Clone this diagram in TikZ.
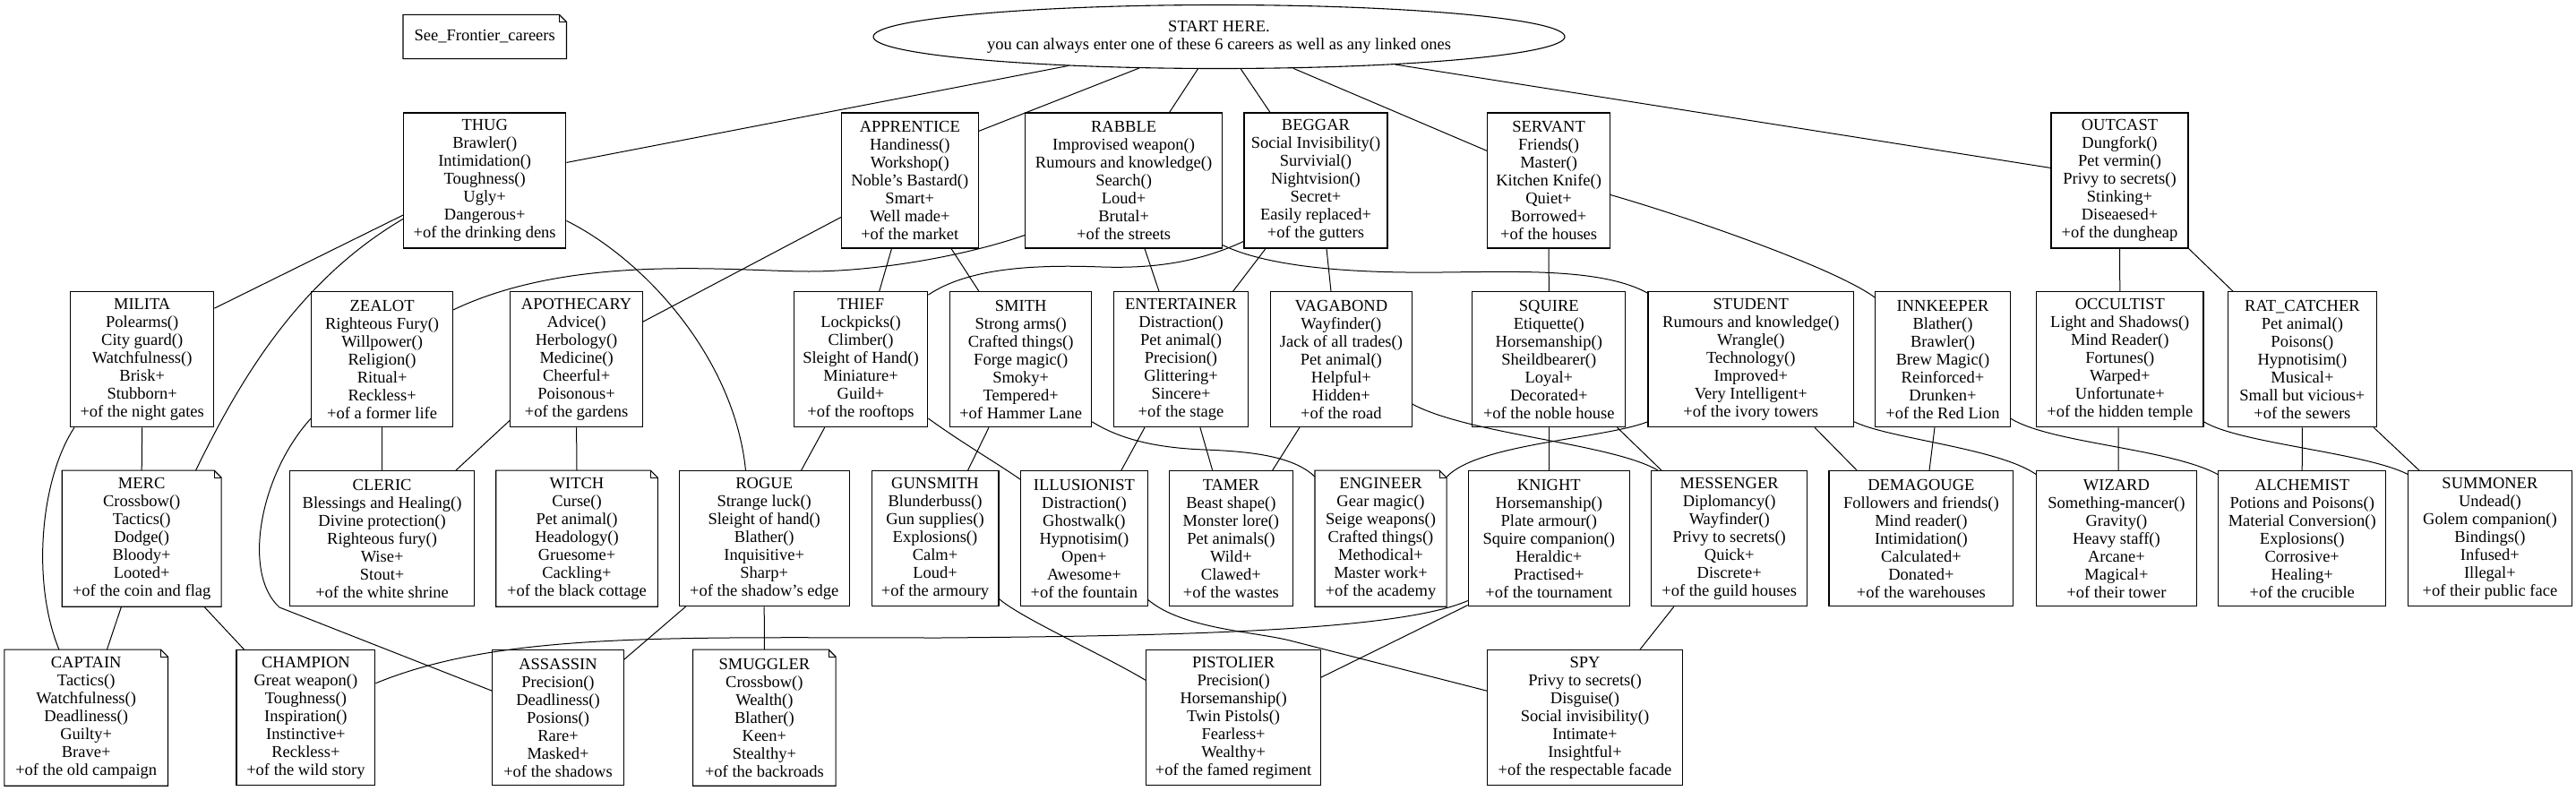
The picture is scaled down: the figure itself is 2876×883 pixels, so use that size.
\documentclass[tikz,border=0pt]{standalone}
\usepackage{fontspec}
\setmainfont{Liberation Serif}
\usetikzlibrary{shapes.geometric,calc}
\newcommand\nfont{\fontsize{18.57pt}{20.07pt}\selectfont}
\begin{document}
\begin{tikzpicture}[x=1bp,y=-1bp,
  box/.style={draw, line width=1.1bp, rectangle, inner sep=0pt, minimum height=151bp, align=center, font=\nfont},
  notebox/.style={box, draw=none},
  ln/.style={line width=1bp}]
\fill[white] (0,0) rectangle (2876,883);
\useasboundingbox (0,0) rectangle (2876,883);

% ---------- top ----------
\node[ellipse, draw, line width=1.1bp, minimum width=772bp, minimum height=71bp, inner sep=0pt, align=center, font=\nfont] (START) at (1361,41) {START HERE.\\you can always enter one of these 6 careers as well as any linked ones};
\node[notebox, minimum width=181.4bp, minimum height=48bp] (SFC) at (541.2,41) {See\_Frontier\_careers};

% ---------- row 1 ----------
\node[box, minimum width=181.4bp] (THUG) at (541.2,201.5) {THUG\\Brawler()\\Intimidation()\\Toughness()\\Ugly+\\Dangerous+\\+of the drinking dens};
\node[box, minimum width=152.5bp] (APPRENTICE) at (1015.8,201.5) {APPRENTICE\\Handiness()\\Workshop()\\Noble's Bastard()\\Smart+\\Well made+\\+of the market};
\node[box, minimum width=219.5bp] (RABBLE) at (1254.6,201.5) {RABBLE\\Improvised weapon()\\Rumours and knowledge()\\Search()\\Loud+\\Brutal+\\+of the streets};
\node[box, minimum width=160bp] (BEGGAR) at (1469,201.5) {BEGGAR\\Social Invisibility()\\Survivial()\\Nightvision()\\Secret+\\Easily replaced+\\+of the gutters};
\node[box, minimum width=136.4bp] (SERVANT) at (1729.1,201.5) {SERVANT\\Friends()\\Master()\\Kitchen Knife()\\Quiet+\\Borrowed+\\+of the houses};
\node[box, minimum width=153bp] (OUTCAST) at (2366.5,201.5) {OUTCAST\\Dungfork()\\Pet vermin()\\Privy to secrets()\\Stinking+\\Diseaesed+\\+of the dungheap};

% ---------- row 2 ----------
\node[box, minimum width=160.3bp] (MILITA) at (158.7,401.2) {MILITA\\Polearms()\\City guard()\\Watchfulness()\\Brisk+\\Stubborn+\\+of the night gates};
\node[box, minimum width=158bp] (ZEALOT) at (426.6,401.2) {ZEALOT\\Righteous Fury()\\Willpower()\\Religion()\\Ritual+\\Reckless+\\+of a former life};
\node[box, minimum width=147.4bp] (APOTHECARY) at (643.6,401.2) {APOTHECARY\\Advice()\\Herbology()\\Medicine()\\Cheerful+\\Poisonous+\\+of the gardens};
\node[box, minimum width=149.7bp] (THIEF) at (961,401.2) {THIEF\\Lockpicks()\\Climber()\\Sleight of Hand()\\Miniature+\\Guild+\\+of the rooftops};
\node[box, minimum width=158bp] (SMITH) at (1139.7,401.2) {SMITH\\Strong arms()\\Crafted things()\\Forge magic()\\Smoky+\\Tempered+\\+of Hammer Lane};
\node[box, minimum width=150.1bp] (ENTERTAINER) at (1318.5,401.2) {ENTERTAINER\\Distraction()\\Pet animal()\\Precision()\\Glittering+\\Sincere+\\+of the stage};
\node[box, minimum width=158bp] (VAGABOND) at (1497.4,401.2) {VAGABOND\\Wayfinder()\\Jack of all trades()\\Pet animal()\\Helpful+\\Hidden+\\+of the road};
\node[box, minimum width=170.8bp] (SQUIRE) at (1729.3,401.2) {SQUIRE\\Etiquette()\\Horsemanship()\\Sheildbearer()\\Loyal+\\Decorated+\\+of the noble house};
\node[box, minimum width=229.6bp] (STUDENT) at (1954.8,401.2) {STUDENT\\Rumours and knowledge()\\Wrangle()\\Technology()\\Improved+\\Very Intelligent+\\+of the ivory towers};
\node[box, minimum width=150.3bp] (INNKEEPER) at (2169,401.2) {INNKEEPER\\Blather()\\Brawler()\\Brew Magic()\\Reinforced+\\Drunken+\\+of the Red Lion};
\node[box, minimum width=186.4bp] (OCCULTIST) at (2366.8,401.2) {OCCULTIST\\Light and Shadows()\\Mind Reader()\\Fortunes()\\Warped+\\Unfortunate+\\+of the hidden temple};
\node[box, minimum width=165.8bp] (RATCATCHER) at (2570.4,401.2) {RAT\_CATCHER\\Pet animal()\\Poisons()\\Hypnotisim()\\Musical+\\Small but vicious+\\+of the sewers};

% ---------- row 3 ----------
\node[notebox, minimum width=176.8bp] (MERC) at (158.2,601.2) {MERC\\Crossbow()\\Tactics()\\Dodge()\\Bloody+\\Looted+\\+of the coin and flag};
\node[box, minimum width=205.8bp] (CLERIC) at (426.6,601.2) {CLERIC\\Blessings and Healing()\\Divine protection()\\Righteous fury()\\Wise+\\Stout+\\+of the white shrine};
\node[notebox, minimum width=179.5bp] (WITCH) at (644,601.2) {WITCH\\Curse()\\Pet animal()\\Headology()\\Gruesome+\\Cackling+\\+of the black cottage};
\node[box, minimum width=190.1bp] (ROGUE) at (853.2,601.2) {ROGUE\\Strange luck()\\Sleight of hand()\\Blather()\\Inquisitive+\\Sharp+\\+of the shadow's edge};
\node[box, minimum width=141.9bp] (GUNSMITH) at (1044,601.2) {GUNSMITH\\Blunderbuss()\\Gun supplies()\\Explosions()\\Calm+\\Loud+\\+of the armoury};
\node[box, minimum width=141.4bp] (ILLUSIONIST) at (1210.4,601.2) {ILLUSIONIST\\Distraction()\\Ghostwalk()\\Hypnotisim()\\Open+\\Awesome+\\+of the fountain};
\node[box, minimum width=138.7bp] (TAMER) at (1374.4,601.2) {TAMER\\Beast shape()\\Monster lore()\\Pet animals()\\Wild+\\Clawed+\\+of the wastes};
\node[notebox, minimum width=146bp] (ENGINEER) at (1541.5,601.2) {ENGINEER\\Gear magic()\\Seige weapons()\\Crafted things()\\Methodical+\\Master work+\\+of the academy};
\node[box, minimum width=180bp] (KNIGHT) at (1729.3,601.2) {KNIGHT\\Horsemanship()\\Plate armour()\\Squire companion()\\Heraldic+\\Practised+\\+of the tournament};
\node[box, minimum width=174.1bp] (MESSENGER) at (1930.7,601.2) {MESSENGER\\Diplomancy()\\Wayfinder()\\Privy to secrets()\\Quick+\\Discrete+\\+of the guild houses};
\node[box, minimum width=205.8bp] (DEMAGOUGE) at (2144.9,601.2) {DEMAGOUGE\\Followers and friends()\\Mind reader()\\Intimidation()\\Calculated+\\Donated+\\+of the warehouses};
\node[box, minimum width=178.6bp] (WIZARD) at (2362.9,601.2) {WIZARD\\Something-mancer()\\Gravity()\\Heavy staff()\\Arcane+\\Magical+\\+of their tower};
\node[box, minimum width=187.4bp] (ALCHEMIST) at (2570.2,601.2) {ALCHEMIST\\Potions and Poisons()\\Material Conversion()\\Explosions()\\Corrosive+\\Healing+\\+of the crucible};
\node[box, minimum width=182.3bp] (SUMMONER) at (2779.9,601.2) {SUMMONER\\Undead()\\Golem companion()\\Bindings()\\Infused+\\Illegal+\\+of their public face};

% ---------- row 4 ----------
\node[notebox, minimum width=181.4bp] (CAPTAIN) at (96.2,801.2) {CAPTAIN\\Tactics()\\Watchfulness()\\Deadliness()\\Guilty+\\Brave+\\+of the old campaign};
\node[box, minimum width=154.8bp] (CHAMPION) at (341.4,801.2) {CHAMPION\\Great weapon()\\Toughness()\\Inspiration()\\Instinctive+\\Reckless+\\+of the wild story};
\node[box, minimum width=146.5bp] (ASSASSIN) at (623,801.2) {ASSASSIN\\Precision()\\Deadliness()\\Posions()\\Rare+\\Masked+\\+of the shadows};
\node[notebox, minimum width=158.4bp] (SMUGGLER) at (853.4,801.2) {SMUGGLER\\Crossbow()\\Wealth()\\Blather()\\Keen+\\Stealthy+\\+of the backroads};
\node[box, minimum width=194.6bp] (PISTOLIER) at (1377.1,801.2) {PISTOLIER\\Precision()\\Horsemanship()\\Twin Pistols()\\Fearless+\\Wealthy+\\+of the famed regiment};
\node[box, minimum width=218.1bp] (SPY) at (1769.5,801.2) {SPY\\Privy to secrets()\\Disguise()\\Social invisibility()\\Intimate+\\Insightful+\\+of the respectable facade};

% note outlines
\foreach \n in {SFC,MERC,WITCH,ENGINEER,CAPTAIN,SMUGGLER}{
  \draw[line width=1.1bp] (\n.north west) -- ($(\n.north east)+(-8,0)$) -- ($(\n.north east)+(0,8)$) -- (\n.south east) -- (\n.south west) -- cycle;
  \draw[line width=1bp] ($(\n.north east)+(-8,0)$) -- ($(\n.north east)+(-8,8)$) -- ($(\n.north east)+(0,8)$);
}

% ---------- edges ----------
\draw[ln] (START) -- ($(THUG.north east)+(0,56)$);
\draw[ln] (START) -- ($(APPRENTICE.north east)+(0,21)$);
\draw[ln] (START) -- ($(RABBLE.north)+(51,0)$);
\draw[ln] (START) -- ($(BEGGAR.north)+(-51,0)$);
\draw[ln] (START) -- ($(SERVANT.north west)+(0,43)$);
\draw[ln] (START) -- ($(OUTCAST.north west)+(0,62)$);

\draw[ln] ($(THUG.north west)+(0,114.7)$) -- ($(MILITA.north east)+(0,19)$);
\draw[ln] ($(THUG.north west)+(0,119)$) .. controls (330,315) and (265,430) .. ($(MERC.north east)+(-28.6,0)$);
\draw[ln] ($(THUG.north east)+(0,121)$) .. controls (720,290) and (820,400) .. ($(ROGUE.north)+(-20.7,0)$);

\draw[ln] ($(APPRENTICE.north west)+(0,117)$) -- ($(APOTHECARY.north east)+(0,34)$);
\draw[ln] ($(APPRENTICE.south)+(-20.3,0)$) -- ($(THIEF.north)+(20.7,0)$);
\draw[ln] ($(APPRENTICE.south)+(46.2,0)$) -- ($(SMITH.north)+(-46.8,0)$);

\draw[ln] ($(RABBLE.north west)+(0,137)$) .. controls (1080,285) and (980,303) .. (903,303) .. controls (820,303) and (640,282) .. ($(ZEALOT.north east)+(0,20.7)$);
\draw[ln] ($(RABBLE.south)+(23.4,0)$) -- ($(ENTERTAINER.north)+(-24.5,0)$);
\draw[ln] ($(RABBLE.south east)+(0,-4)$) .. controls (1420,300) and (1520,305) .. (1610,304) .. controls (1700,303) and (1790,300) .. ($(STUDENT.north west)+(0,2)$);

\draw[ln] ($(BEGGAR.north west)+(0,144)$) .. controls (1340,292) and (1290,300) .. (1230,298) .. controls (1150,295) and (1080,300) .. ($(THIEF.north east)+(0,4)$);
\draw[ln] ($(BEGGAR.south)+(-56,0)$) -- ($(ENTERTAINER.north)+(58.1,0)$);
\draw[ln] ($(BEGGAR.south)+(12,0)$) -- ($(VAGABOND.north)+(-11.4,0)$);

\draw[ln] (SERVANT.south) -- (SQUIRE.north);
\draw[ln] ($(SERVANT.north east)+(0,92)$) .. controls (1890,244) and (2050,300) .. ($(INNKEEPER.north west)+(0,7)$);

\draw[ln] (OUTCAST.south) -- (OCCULTIST.north);
\draw[ln] (OUTCAST.south east) -- ($(RATCATCHER.north west)+(6,0)$);

\draw[ln] (MILITA.south) -- (MERC.north);
\draw[ln] ($(MILITA.south west)+(5,0)$) .. controls (45,535) and (35,650) .. ($(CAPTAIN.north west)+(61,0)$);

\draw[ln] (ZEALOT.south) -- (CLERIC.north);
\draw[ln] ($(ZEALOT.north west)+(0,142)$) .. controls (290,530) and (270,640) .. (312,678) -- ($(ASSASSIN.north west)+(0,46)$);

\draw[ln] ($(APOTHECARY.north west)+(0,144)$) -- ($(CLERIC.north east)+(-21.2,0)$);
\draw[ln] (APOTHECARY.south) -- (WITCH.north);

\draw[ln] ($(THIEF.south)+(-40.3,0)$) -- ($(ROGUE.north)+(41.3,0)$);
\draw[ln] ($(THIEF.north east)+(0,142)$) .. controls (1075,495) and (1110,515) .. ($(ILLUSIONIST.north west)+(0,10)$);

\draw[ln] ($(SMITH.south)+(-35.7,0)$) -- ($(GUNSMITH.north)+(36.5,0)$);
\draw[ln] ($(SMITH.north east)+(0,145.7)$) .. controls (1250,490) and (1290,500) .. (1345,502) .. controls (1400,504) and (1445,510) .. ($(ENGINEER.north west)+(0,7)$);

\draw[ln] ($(ENTERTAINER.south)+(-40.5,0)$) -- ($(ILLUSIONIST.north)+(41.4,0)$);
\draw[ln] ($(ENTERTAINER.south)+(21.4,0)$) -- ($(TAMER.north)+(-20.7,0)$);

\draw[ln] ($(VAGABOND.south west)+(33,0)$) -- ($(TAMER.north east)+(-23.7,0)$);
\draw[ln] ($(VAGABOND.north east)+(0,126)$) .. controls (1640,485) and (1800,495) .. ($(MESSENGER.north west)+(8,0)$);

\draw[ln] (SQUIRE.south) -- (KNIGHT.north);
\draw[ln] ($(SQUIRE.south east)+(-9.7,0)$) -- ($(MESSENGER.north west)+(12,0)$);

\draw[ln] ($(STUDENT.north west)+(0,145.7)$) .. controls (1790,490) and (1650,495) .. ($(ENGINEER.north east)+(0,7.3)$);
\draw[ln] ($(STUDENT.south east)+(-44.1,0)$) -- ($(DEMAGOUGE.north west)+(31.7,0)$);
\draw[ln] ($(STUDENT.north east)+(0,145.7)$) .. controls (2110,490) and (2230,500) .. ($(WIZARD.north west)+(0,4.3)$);

\draw[ln] ($(INNKEEPER.south)+(-9,0)$) -- ($(DEMAGOUGE.north)+(9.1,0)$);
\draw[ln] ($(INNKEEPER.north east)+(0,142)$) .. controls (2290,495) and (2420,500) .. ($(ALCHEMIST.north west)+(0,4.3)$);

\draw[ln] ($(OCCULTIST.south)+(-1.8,0)$) -- ($(WIZARD.north)+(2.1,0)$);
\draw[ln] ($(OCCULTIST.north east)+(0,145.7)$) .. controls (2500,495) and (2640,505) .. ($(SUMMONER.north west)+(0,4.3)$);

\draw[ln] (RATCATCHER.south) -- (ALCHEMIST.north);
\draw[ln] ($(RATCATCHER.south east)+(-3.7,0)$) -- ($(SUMMONER.north west)+(12.8,0)$);

\draw[ln] ($(MERC.south)+(-22.7,0)$) -- ($(CAPTAIN.north)+(23.2,0)$);
\draw[ln] ($(MERC.south east)+(-19.3,0)$) -- ($(CHAMPION.north west)+(9.2,0)$);

\draw[ln] ($(ROGUE.south west)+(7.9,0)$) -- ($(ASSASSIN.north east)+(0,11)$);
\draw[ln] (ROGUE.south) -- (SMUGGLER.north);

\draw[ln] ($(KNIGHT.south west)+(0,-6.7)$) .. controls (1560,705) and (1300,710) .. (1050,712) .. controls (750,712) and (560,705) .. ($(CHAMPION.north east)+(0,37.6)$);
\draw[ln] ($(KNIGHT.south west)+(0,-1.7)$) -- ($(PISTOLIER.north east)+(0,31)$);

\draw[ln] ($(GUNSMITH.south east)+(0,-8.7)$) .. controls (1140,690) and (1230,730) .. ($(PISTOLIER.north west)+(0,34.3)$);

\draw[ln] ($(ILLUSIONIST.north east)+(0,144.3)$) .. controls (1320,702) and (1400,705) .. (1440,715) -- ($(SPY.north west)+(0,46)$);

\draw[ln] ($(MESSENGER.south west)+(25.7,0)$) -- ($(SPY.north east)+(-48.2,0)$);
\end{tikzpicture}
\end{document}
